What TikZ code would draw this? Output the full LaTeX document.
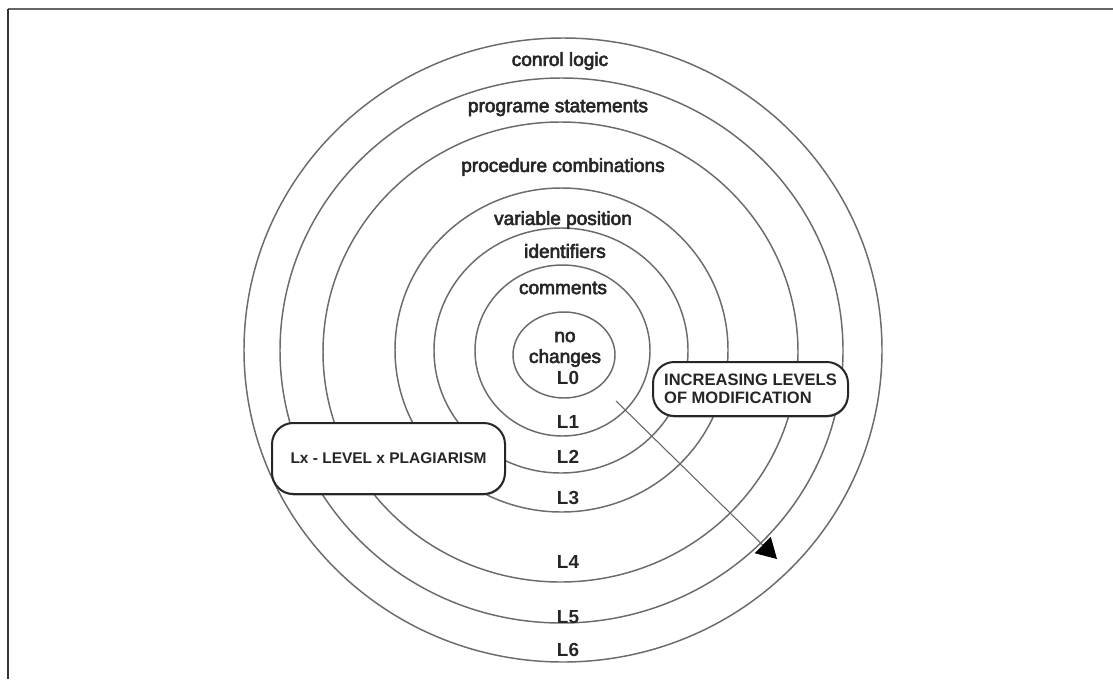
\documentclass[tikz,border=0pt]{standalone}
\usepackage{fontspec}
\setmainfont{Liberation Sans}
\newfontfamily\ringfont[FakeBold=3]{Liberation Sans}
\usetikzlibrary{arrows.meta,shadows}
\begin{document}
\begin{tikzpicture}[x=0.75pt,y=-0.75pt,
  ring/.style={draw=black!58,line width=1.1pt},
  ringlabel/.style={font=\ringfont\fontsize{14.3}{16}\selectfont,text=black!85,inner sep=0pt},
  levellabel/.style={font=\bfseries\fontsize{14.2}{16}\selectfont,text=black!85,inner sep=0pt},
  notebox/.style={draw=black!85,line width=1.5pt,fill=white,rounded corners=16pt,
    font=\bfseries\fontsize{11.6}{13.2}\selectfont,text=black!85,
    drop shadow={shadow xshift=0.4pt,shadow yshift=-1pt,fill=black!60,opacity=0.8}},
  frameline/.style={line width=1.5pt}]
\useasboundingbox (0,0) rectangle (1113,679);
\fill[white] (0,0) rectangle (1113,679);
% outer frame (top and left edges)
\draw[frameline,draw=black!60] (8,9) -- (1113,9);
\draw[frameline,draw=black!80,line width=1.2pt] (8,9) -- (8,679);

% concentric rings, innermost first
\draw[ring] (564,355) ellipse [x radius=51,y radius=43];
\draw[ring] (562.5,350.5) ellipse [x radius=87.5,y radius=85.5];
\draw[ring] (561,350.5) ellipse [x radius=127,y radius=122.5];
\draw[ring] (561.5,350) ellipse [x radius=166.5,y radius=162];
\draw[ring] (560.5,352) ellipse [x radius=237.5,y radius=230];
\draw[ring] (561.5,350.5) ellipse [x radius=281.5,y radius=272.5];
\draw[ring] (563,350) ellipse [x radius=319,y radius=312];

% ring captions
\node[ringlabel] (ctl) at (560,61) {conrol logic};
\node[ringlabel] (stm) at (558,108) {programe statements};
\node[ringlabel] (prc) at (563,167) {procedure combinations};
\node[ringlabel] (var) at (563,220) {variable position};
\node[ringlabel] (idf) at (565,251) {identifiers};
\node[ringlabel] (cmt) at (563,288) {comments};
\node[ringlabel] (no) at (565,337) {no};
\node[ringlabel] (chg) at (565,358) {changes};
\node[levellabel] (l0) at (568,378) {L0};
\node[levellabel] (l1) at (568,422) {L1};
\node[levellabel] (l2) at (568,457) {L2};
\node[levellabel] (l3) at (568,498) {L3};
\node[levellabel] (l4) at (568,562) {L4};
\node[levellabel] (l5) at (568,617) {L5};
\node[levellabel] (l6) at (568,650) {L6};

% direction arrow
\coordinate (astart) at (616,401);
\coordinate (aend) at (777,559);
\draw[draw=black!60,line width=0.8pt,-{Triangle[length=15pt,width=17pt,color=black]}] (astart) -- (aend);

% annotation boxes
\node[notebox,minimum width=233*0.75pt,minimum height=71*0.75pt] (legend) at (388.5,458.5)
  {Lx - LEVEL x PLAGIARISM};
\node[notebox,minimum width=195*0.75pt,minimum height=54*0.75pt,align=left,
  font=\bfseries\fontsize{12.4}{13.6}\selectfont] (incr) at (750.5,389)
  {INCREASING LEVELS\\OF MODIFICATION};
\end{tikzpicture}
\end{document}
